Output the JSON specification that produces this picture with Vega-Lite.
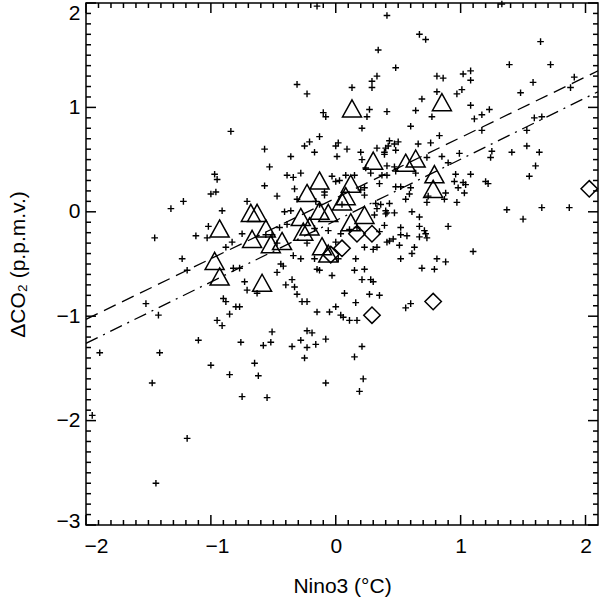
{
  "$schema": "https://vega.github.io/schema/vega-lite/v6.json",
  "width": 512,
  "height": 522,
  "autosize": {"type": "none"},
  "padding": {"left": 86, "top": 3, "right": 2, "bottom": 73},
  "background": "white",
  "config": {
    "view": {"stroke": "black", "strokeWidth": 1.5},
    "axis": {
      "domain": false,
      "grid": false,
      "labelFont": "Liberation Sans",
      "labelFontSize": 21,
      "labelColor": "black",
      "labelOverlap": false,
      "labelBound": false,
      "labelFlush": false,
      "titleFont": "Liberation Sans",
      "titleFontSize": 21,
      "titleFontWeight": "normal",
      "titleColor": "black"
    }
  },
  "datasets": {
    "xmaj": [{"v":-2},{"v":-1},{"v":0},{"v":1},{"v":2}],
    "xmin": [{"v":-1.9},{"v":-1.8},{"v":-1.7},{"v":-1.6},{"v":-1.5},{"v":-1.4},{"v":-1.3},{"v":-1.2},{"v":-1.1},
             {"v":-0.9},{"v":-0.8},{"v":-0.7},{"v":-0.6},{"v":-0.5},{"v":-0.4},{"v":-0.3},{"v":-0.2},{"v":-0.1},
             {"v":0.1},{"v":0.2},{"v":0.3},{"v":0.4},{"v":0.5},{"v":0.6},{"v":0.7},{"v":0.8},{"v":0.9},
             {"v":1.1},{"v":1.2},{"v":1.3},{"v":1.4},{"v":1.5},{"v":1.6},{"v":1.7},{"v":1.8},{"v":1.9}],
    "ymaj": [{"v":-3},{"v":-2},{"v":-1},{"v":0},{"v":1},{"v":2}],
    "ymin": [{"v":-2.9},{"v":-2.8},{"v":-2.7},{"v":-2.6},{"v":-2.5},{"v":-2.4},{"v":-2.3},{"v":-2.2},{"v":-2.1},
             {"v":-1.9},{"v":-1.8},{"v":-1.7},{"v":-1.6},{"v":-1.5},{"v":-1.4},{"v":-1.3},{"v":-1.2},{"v":-1.1},
             {"v":-0.9},{"v":-0.8},{"v":-0.7},{"v":-0.6},{"v":-0.5},{"v":-0.4},{"v":-0.3},{"v":-0.2},{"v":-0.1},
             {"v":0.1},{"v":0.2},{"v":0.3},{"v":0.4},{"v":0.5},{"v":0.6},{"v":0.7},{"v":0.8},{"v":0.9},
             {"v":1.1},{"v":1.2},{"v":1.3},{"v":1.4},{"v":1.5},{"v":1.6},{"v":1.7},{"v":1.8},{"v":1.9}],
    "plus": [
      {"x":-0.31,"y":1.22},{"x":-0.84,"y":0.77},{"x":-0.57,"y":0.60},{"x":-0.36,"y":0.53},{"x":-0.53,"y":0.43},
      {"x":-0.97,"y":0.36},{"x":-0.95,"y":0.31},{"x":-0.39,"y":0.35},{"x":-0.34,"y":0.33},{"x":-0.57,"y":0.25},
      {"x":-0.33,"y":0.22},{"x":-0.96,"y":0.19},{"x":-1.00,"y":0.17},{"x":-0.47,"y":0.15},{"x":-0.31,"y":0.12},
      {"x":-1.22,"y":0.10},{"x":-0.71,"y":0.10},{"x":-1.32,"y":0.03},{"x":-0.91,"y":0.01},{"x":-0.41,"y":0.00},
      {"x":-0.36,"y":0.01},{"x":-1.02,"y":-0.14},{"x":-1.45,"y":-0.25},{"x":-1.12,"y":-0.23},{"x":-1.03,"y":-0.25},
      {"x":-0.75,"y":-0.21},{"x":-0.83,"y":-0.29},{"x":-0.88,"y":-0.34},{"x":-0.56,"y":-0.22},{"x":-0.51,"y":-0.22},
      {"x":-0.39,"y":-0.12},{"x":-1.23,"y":-0.45},{"x":-1.19,"y":-0.56},{"x":-0.82,"y":-0.54},{"x":-0.77,"y":-0.54},
      {"x":-0.44,"y":-0.50},{"x":-0.42,"y":-0.52},{"x":-0.47,"y":-0.58},{"x":-0.34,"y":-0.42},{"x":-0.35,"y":-0.65},
      {"x":-0.73,"y":-0.67},{"x":-0.71,"y":-0.75},{"x":-0.63,"y":-0.78},{"x":-0.40,"y":-0.70},{"x":-0.33,"y":-0.72},
      {"x":-0.31,"y":-0.79},{"x":-0.90,"y":-0.83},{"x":-0.28,"y":0.37},{"x":-0.09,"y":0.19},{"x":-0.09,"y":0.16},
      {"x":0.00,"y":0.29},{"x":-0.16,"y":0.10},{"x":-0.13,"y":0.07},{"x":0.05,"y":0.07},{"x":-0.45,"y":-0.15},
      {"x":-0.47,"y":-0.30},{"x":-0.17,"y":-0.16},{"x":-0.06,"y":-0.18},{"x":0.04,"y":-0.21},{"x":0.11,"y":-0.17},
      {"x":0.17,"y":-0.15},{"x":0.46,"y":-0.26},{"x":-0.23,"y":-0.30},{"x":0.00,"y":-0.29},{"x":-0.28,"y":-0.45},
      {"x":-0.17,"y":-0.45},{"x":0.02,"y":-0.45},{"x":-0.13,"y":-0.56},{"x":-0.27,"y":-0.86},{"x":-0.23,"y":-0.86},
      {"x":0.16,"y":-0.87},{"x":0.00,"y":-0.91},{"x":0.48,"y":0.59},{"x":0.47,"y":0.43},{"x":0.24,"y":0.42},
      {"x":0.23,"y":0.16},{"x":0.32,"y":0.08},{"x":0.31,"y":-0.03},
      {"x":-0.15,"y":1.97},{"x":0.41,"y":1.88},{"x":0.67,"y":1.70},{"x":0.72,"y":1.65},{"x":0.34,"y":1.55},
      {"x":1.64,"y":1.63},{"x":1.39,"y":1.41},{"x":1.72,"y":1.41},{"x":0.48,"y":1.38},{"x":0.33,"y":1.30},
      {"x":0.29,"y":1.25},{"x":0.29,"y":1.19},{"x":0.13,"y":1.19},{"x":-0.23,"y":1.13},{"x":0.81,"y":1.30},
      {"x":0.86,"y":1.28},{"x":1.02,"y":1.32},{"x":1.08,"y":1.35},{"x":1.08,"y":1.26},{"x":0.81,"y":1.15},
      {"x":0.97,"y":1.13},{"x":1.01,"y":1.17},{"x":1.58,"y":1.24},{"x":1.48,"y":1.14},{"x":1.88,"y":1.19},
      {"x":1.91,"y":1.29},{"x":0.69,"y":1.08},{"x":1.08,"y":1.02},{"x":-0.10,"y":0.95},{"x":-0.08,"y":0.91},
      {"x":0.27,"y":0.98},{"x":0.25,"y":0.91},{"x":0.41,"y":0.96},{"x":0.64,"y":0.97},{"x":0.77,"y":0.91},
      {"x":1.23,"y":0.98},{"x":1.17,"y":0.93},{"x":1.11,"y":0.89},{"x":0.21,"y":0.80},{"x":0.60,"y":0.82},
      {"x":1.17,"y":0.78},{"x":0.83,"y":0.73},{"x":1.59,"y":0.90},{"x":1.65,"y":0.91},{"x":1.53,"y":0.78},
      {"x":1.53,"y":0.63},{"x":1.63,"y":0.57},{"x":1.41,"y":0.57},{"x":1.25,"y":0.58},{"x":1.24,"y":0.52},
      {"x":1.60,"y":0.44},{"x":1.55,"y":0.34},{"x":-0.25,"y":0.63},{"x":-0.21,"y":0.67},{"x":-0.13,"y":0.72},
      {"x":-0.17,"y":0.57},{"x":0.00,"y":0.63},{"x":0.02,"y":0.66},{"x":0.01,"y":0.53},{"x":0.09,"y":0.60},
      {"x":0.20,"y":0.57},{"x":0.21,"y":0.50},{"x":0.33,"y":0.61},{"x":0.40,"y":0.61},{"x":0.42,"y":0.63},
      {"x":0.47,"y":0.65},{"x":0.50,"y":0.67},{"x":0.39,"y":0.55},{"x":0.41,"y":0.44},{"x":0.76,"y":0.66},
      {"x":0.85,"y":0.53},{"x":0.99,"y":0.56},{"x":0.66,"y":0.65},{"x":0.90,"y":0.47},{"x":0.73,"y":0.52},
      {"x":0.28,"y":0.37},{"x":0.37,"y":0.35},{"x":0.41,"y":0.35},{"x":0.48,"y":0.24},{"x":0.52,"y":0.24},
      {"x":0.60,"y":0.23},{"x":0.56,"y":0.12},{"x":0.59,"y":0.17},{"x":0.73,"y":0.09},{"x":0.96,"y":0.36},
      {"x":0.95,"y":0.29},{"x":1.02,"y":0.28},{"x":1.04,"y":0.26},{"x":1.08,"y":0.36},{"x":0.98,"y":0.23},
      {"x":1.03,"y":0.18},{"x":0.87,"y":0.12},{"x":0.97,"y":0.09},{"x":1.20,"y":0.29},{"x":1.22,"y":0.27},
      {"x":1.37,"y":0.02},{"x":1.50,"y":-0.07},{"x":1.65,"y":0.04},{"x":1.87,"y":0.04},{"x":0.35,"y":0.27},
      {"x":0.43,"y":0.08},{"x":0.36,"y":0.07},{"x":0.40,"y":0.01},{"x":0.41,"y":-0.01},{"x":0.33,"y":0.03},
      {"x":0.20,"y":0.21},{"x":0.23,"y":0.23},{"x":0.15,"y":0.35},{"x":0.08,"y":0.35},{"x":0.03,"y":0.30},
      {"x":-0.03,"y":0.34},{"x":0.61,"y":0.00},{"x":0.67,"y":-0.05},{"x":0.39,"y":-0.13},{"x":0.52,"y":-0.15},
      {"x":0.52,"y":-0.22},{"x":0.57,"y":-0.23},{"x":0.67,"y":-0.24},{"x":0.73,"y":-0.25},{"x":0.63,"y":-0.34},
      {"x":0.71,"y":-0.18},{"x":0.90,"y":-0.14},{"x":0.43,"y":-0.28},{"x":0.41,"y":-0.29},{"x":0.33,"y":-0.34},
      {"x":0.30,"y":-0.36},{"x":0.23,"y":-0.34},{"x":0.61,"y":-0.40},{"x":0.52,"y":-0.45},{"x":1.10,"y":-0.38},
      {"x":0.81,"y":-0.45},{"x":0.88,"y":-0.48},{"x":0.69,"y":-0.54},{"x":0.79,"y":-0.55},{"x":0.16,"y":-0.45},
      {"x":0.23,"y":-0.55},{"x":0.15,"y":-0.56},{"x":-0.15,"y":-0.55},{"x":-0.03,"y":-0.61},{"x":0.21,"y":-0.65},
      {"x":0.28,"y":-0.65},{"x":0.30,"y":-0.67},{"x":0.07,"y":-0.78},{"x":0.27,"y":-0.79},{"x":0.35,"y":-0.80},
      {"x":1.33,"y":1.99},{"x":0.43,"y":0.68},{"x":0.39,"y":0.57},{"x":0.48,"y":0.39},{"x":0.64,"y":0.37},
      {"x":0.74,"y":0.15},{"x":0.88,"y":0.18},{"x":0.40,"y":-0.02},{"x":0.47,"y":-0.01},{"x":0.67,"y":-0.14},
      {"x":0.35,"y":-0.19},{"x":0.51,"y":-0.32},{"x":0.72,"y":-0.21},{"x":0.56,"y":-0.92},{"x":0.60,"y":-0.88},
      {"x":-0.15,"y":-0.96},{"x":-0.05,"y":-0.96},{"x":0.04,"y":-0.99},{"x":0.06,"y":-1.01},{"x":0.11,"y":-1.04},
      {"x":0.17,"y":-1.04},{"x":-0.77,"y":-0.91},{"x":-0.51,"y":-1.15},{"x":-0.52,"y":-1.25},{"x":-0.58,"y":-1.28},
      {"x":-0.76,"y":-1.25},{"x":-0.23,"y":-1.14},{"x":-0.19,"y":-1.16},{"x":-0.28,"y":-1.23},{"x":-0.35,"y":-1.29},
      {"x":-0.23,"y":-1.30},{"x":-0.16,"y":-1.27},{"x":-0.08,"y":-1.22},{"x":0.21,"y":-1.29},{"x":0.15,"y":-1.39},
      {"x":-0.25,"y":-1.40},{"x":-0.65,"y":-1.45},{"x":-0.62,"y":-1.57},{"x":-0.08,"y":-1.64},{"x":0.22,"y":-1.60},
      {"x":0.19,"y":-1.72},{"x":-0.75,"y":-1.77},{"x":-0.55,"y":-1.78},{"x":-1.52,"y":-0.88},{"x":-1.42,"y":-0.99},
      {"x":-1.89,"y":-1.35},{"x":-1.41,"y":-1.35},{"x":-1.47,"y":-1.64},{"x":-1.95,"y":-1.95},{"x":-1.19,"y":-2.17},
      {"x":-1.44,"y":-2.60},{"x":-1.10,"y":-1.23},{"x":-1.00,"y":-1.47},{"x":-0.95,"y":-1.04},{"x":-0.91,"y":-1.09},
      {"x":-0.85,"y":-0.98},{"x":-0.88,"y":-0.86},{"x":-0.80,"y":-0.91},{"x":-0.85,"y":-1.56}
    ],
    "tri": [
      {"x":0.13,"y":0.99},{"x":0.85,"y":1.05},{"x":0.30,"y":0.49},{"x":0.56,"y":0.47},{"x":0.64,"y":0.51},
      {"x":0.79,"y":0.36},{"x":0.78,"y":0.22},{"x":-0.13,"y":0.30},{"x":0.12,"y":0.27},{"x":-0.23,"y":0.18},
      {"x":0.08,"y":0.15},{"x":0.05,"y":0.10},{"x":-0.13,"y":0.01},{"x":-0.06,"y":-0.01},{"x":0.23,"y":-0.03},
      {"x":-0.28,"y":-0.05},{"x":0.12,"y":-0.10},{"x":-0.21,"y":-0.14},{"x":-0.26,"y":-0.19},{"x":-0.11,"y":-0.33},
      {"x":-0.06,"y":-0.40},{"x":-0.68,"y":-0.01},{"x":-0.63,"y":-0.01},{"x":-0.93,"y":-0.16},{"x":-0.56,"y":-0.16},
      {"x":-0.67,"y":-0.26},{"x":-0.52,"y":-0.31},{"x":-0.43,"y":-0.28},{"x":-0.97,"y":-0.47},{"x":-0.93,"y":-0.62},
      {"x":-0.59,"y":-0.68}
    ],
    "dia": [
      {"x":0.29,"y":-0.21},{"x":0.17,"y":-0.21},{"x":0.05,"y":-0.35},{"x":-0.04,"y":-0.41},
      {"x":0.29,"y":-0.99},{"x":0.78,"y":-0.86},{"x":2.03,"y":0.22}
    ],
    "fits": [
      {"fit":"dashed","x":-2.0,"y":-1.03},{"fit":"dashed","x":2.1,"y":1.35},
      {"fit":"dashdot","x":-2.0,"y":-1.26},{"fit":"dashdot","x":2.1,"y":1.15}
    ]
  },
  "resolve": {"axis": {"x": "independent", "y": "independent"}},
  "layer": [
    {
      "mark": {"type": "rule", "color": "black", "strokeWidth": 1.3, "strokeDash": [4, 7]},
      "encoding": {
        "x": {"datum": 0, "type": "quantitative", "scale": {"domain": [-2, 2.1], "nice": false, "zero": false}, "axis": null}
      }
    },
    {
      "mark": {"type": "rule", "color": "black", "strokeWidth": 1.3, "strokeDash": [4, 7]},
      "encoding": {
        "y": {"datum": 0, "type": "quantitative", "scale": {"domain": [-3, 2], "nice": false, "zero": false}, "axis": null}
      }
    },
    {
      "data": {"name": "xmaj"},
      "mark": {"type": "rule", "color": "black", "strokeWidth": 1.5},
      "encoding": {
        "x": {"field": "v", "type": "quantitative", "scale": {"domain": [-2, 2.1], "nice": false, "zero": false}, "axis": null},
        "y": {"datum": -3, "type": "quantitative", "scale": {"domain": [-3, 2], "nice": false, "zero": false}, "axis": null},
        "y2": {"datum": -2.904}
      }
    },
    {
      "data": {"name": "xmaj"},
      "mark": {"type": "rule", "color": "black", "strokeWidth": 1.5},
      "encoding": {
        "x": {"field": "v", "type": "quantitative", "scale": {"domain": [-2, 2.1], "nice": false, "zero": false}, "axis": null},
        "y": {"datum": 2, "type": "quantitative", "scale": {"domain": [-3, 2], "nice": false, "zero": false}, "axis": null},
        "y2": {"datum": 1.904}
      }
    },
    {
      "data": {"name": "xmin"},
      "mark": {"type": "rule", "color": "black", "strokeWidth": 1.5},
      "encoding": {
        "x": {"field": "v", "type": "quantitative", "scale": {"domain": [-2, 2.1], "nice": false, "zero": false}, "axis": null},
        "y": {"datum": -3, "type": "quantitative", "scale": {"domain": [-3, 2], "nice": false, "zero": false}, "axis": null},
        "y2": {"datum": -2.952}
      }
    },
    {
      "data": {"name": "xmin"},
      "mark": {"type": "rule", "color": "black", "strokeWidth": 1.5},
      "encoding": {
        "x": {"field": "v", "type": "quantitative", "scale": {"domain": [-2, 2.1], "nice": false, "zero": false}, "axis": null},
        "y": {"datum": 2, "type": "quantitative", "scale": {"domain": [-3, 2], "nice": false, "zero": false}, "axis": null},
        "y2": {"datum": 1.952}
      }
    },
    {
      "data": {"name": "ymaj"},
      "mark": {"type": "rule", "color": "black", "strokeWidth": 1.5},
      "encoding": {
        "y": {"field": "v", "type": "quantitative", "scale": {"domain": [-3, 2], "nice": false, "zero": false}, "axis": null},
        "x": {"datum": -2, "type": "quantitative", "scale": {"domain": [-2, 2.1], "nice": false, "zero": false}, "axis": null},
        "x2": {"datum": -1.92}
      }
    },
    {
      "data": {"name": "ymaj"},
      "mark": {"type": "rule", "color": "black", "strokeWidth": 1.5},
      "encoding": {
        "y": {"field": "v", "type": "quantitative", "scale": {"domain": [-3, 2], "nice": false, "zero": false}, "axis": null},
        "x": {"datum": 2.1, "type": "quantitative", "scale": {"domain": [-2, 2.1], "nice": false, "zero": false}, "axis": null},
        "x2": {"datum": 2.02}
      }
    },
    {
      "data": {"name": "ymin"},
      "mark": {"type": "rule", "color": "black", "strokeWidth": 1.5},
      "encoding": {
        "y": {"field": "v", "type": "quantitative", "scale": {"domain": [-3, 2], "nice": false, "zero": false}, "axis": null},
        "x": {"datum": -2, "type": "quantitative", "scale": {"domain": [-2, 2.1], "nice": false, "zero": false}, "axis": null},
        "x2": {"datum": -1.96}
      }
    },
    {
      "data": {"name": "ymin"},
      "mark": {"type": "rule", "color": "black", "strokeWidth": 1.5},
      "encoding": {
        "y": {"field": "v", "type": "quantitative", "scale": {"domain": [-3, 2], "nice": false, "zero": false}, "axis": null},
        "x": {"datum": 2.1, "type": "quantitative", "scale": {"domain": [-2, 2.1], "nice": false, "zero": false}, "axis": null},
        "x2": {"datum": 2.06}
      }
    },
    {
      "data": {"name": "fits"},
      "mark": {"type": "line", "color": "black", "strokeWidth": 1.3, "clip": true},
      "encoding": {
        "x": {"field": "x", "type": "quantitative", "scale": {"domain": [-2, 2.1], "nice": false, "zero": false}, "axis": null},
        "y": {"field": "y", "type": "quantitative", "scale": {"domain": [-3, 2], "nice": false, "zero": false}, "axis": null},
        "detail": {"field": "fit"},
        "strokeDash": {"field": "fit", "type": "nominal", "scale": {"domain": ["dashed", "dashdot"], "range": [[13, 7], [13, 6, 2, 6]]}, "legend": null}
      }
    },
    {
      "data": {"name": "plus"},
      "mark": {"type": "point", "shape": "M-1,0L1,0M0,-1L0,1", "size": 44, "filled": false, "color": "black", "strokeWidth": 1.4, "opacity": 1},
      "encoding": {
        "x": {"field": "x", "type": "quantitative", "scale": {"domain": [-2, 2.1], "nice": false, "zero": false},
              "axis": {"orient": "bottom", "values": [-2, -1, 0, 1, 2], "format": "d",
                       "ticks": true, "tickSize": 0, "domain": false, "labelPadding": 10,
                       "labelOffset": {"condition": [{"test": "datum.value == -2", "value": 10}, {"test": "datum.value == -1", "value": 6}], "value": 0},
                       "title": "Nino3 (°C)", "titlePadding": 19}},
        "y": {"field": "y", "type": "quantitative", "scale": {"domain": [-3, 2], "nice": false, "zero": false},
              "axis": {"orient": "left", "values": [-3, -2, -1, 0, 1, 2], "format": "d",
                       "ticks": true, "tickSize": 0, "domain": false, "labelPadding": 6,
                       "labelOffset": {"condition": [{"test": "datum.value == 2", "value": 10}, {"test": "datum.value == -3", "value": -4}], "value": 0},
                       "title": "ΔCO₂ (p.p.m.v.)", "titlePadding": 28}}
      }
    },
    {
      "data": {"name": "tri"},
      "mark": {"type": "point", "shape": "M0,-0.9L1,0.9L-1,0.9Z", "size": 361, "filled": false, "color": "black", "strokeWidth": 1.5, "opacity": 1},
      "encoding": {
        "x": {"field": "x", "type": "quantitative", "scale": {"domain": [-2, 2.1], "nice": false, "zero": false}, "axis": null},
        "y": {"field": "y", "type": "quantitative", "scale": {"domain": [-3, 2], "nice": false, "zero": false}, "axis": null}
      }
    },
    {
      "data": {"name": "dia"},
      "mark": {"type": "point", "shape": "M0,-1L1,0L0,1L-1,0Z", "size": 270, "filled": false, "color": "black", "strokeWidth": 1.5, "opacity": 1},
      "encoding": {
        "x": {"field": "x", "type": "quantitative", "scale": {"domain": [-2, 2.1], "nice": false, "zero": false}, "axis": null},
        "y": {"field": "y", "type": "quantitative", "scale": {"domain": [-3, 2], "nice": false, "zero": false}, "axis": null}
      }
    }
  ]
}
